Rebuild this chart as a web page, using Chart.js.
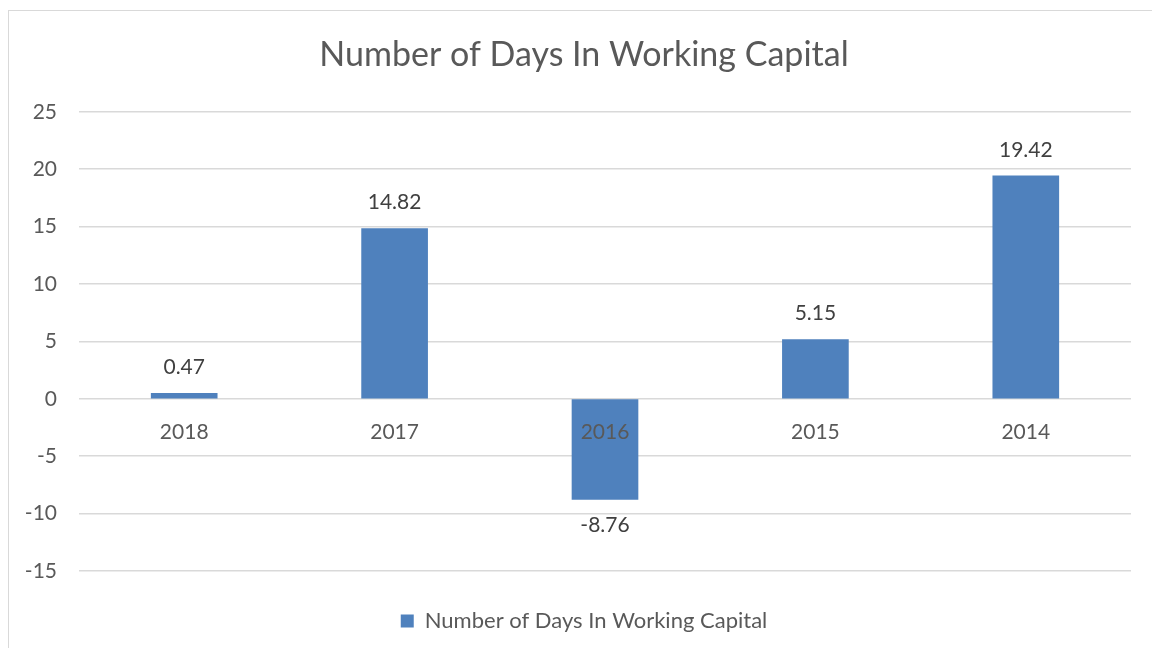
<!DOCTYPE html>
<html>
<head>
<meta charset="utf-8">
<script src="https://cdn.jsdelivr.net/npm/chart.js@4.4.1/dist/chart.umd.min.js"></script>
<style>
  html, body { margin: 0; padding: 0; background: #fff; overflow: hidden; }
  #frame { position: absolute; left: 8px; top: 10px; width: 1160px; height: 660px; border: 1px solid #d9d9d9; box-sizing: border-box; }
  #wrap { position: absolute; left: 8px; top: 0; width: 1152px; height: 648px; }
</style>
</head>
<body>
<div id="frame"></div>
<div id="wrap"><canvas id="myChart" width="1152" height="648"></canvas></div>
<script>
const years = ['2018', '2017', '2016', '2015', '2014'];
const days = [0.47, 14.82, -8.76, 5.15, 19.42];
const yTicks = [-15, -10, -5, 0, 5, 10, 15, 20, 25];
const seriesName = 'Number of Days In Working Capital';

const FONT = 'Lato, "Open Sans", sans-serif';

// category labels sit just under the zero line, values above/below each bar
const labelPlugin = {
    id: 'labels',
    afterDatasetsDraw(chart) {
        const ctx = chart.ctx;
        const x = chart.scales.x, y = chart.scales.y;
        const zero = y.getPixelForValue(0);
        ctx.save();
        ctx.font = '21px ' + FONT;
        ctx.textAlign = 'center';
        ctx.textBaseline = 'middle';
        ctx.fillStyle = '#595959';
        years.forEach((yr, i) => {
            ctx.fillText(yr, x.getPixelForTick(i), zero + 33);
        });
        ctx.fillStyle = '#404040';
        const meta = chart.getDatasetMeta(0);
        meta.data.forEach((bar, i) => {
            const v = days[i];
            const yy = v >= 0 ? bar.y - 26 : bar.y + 26;
            ctx.fillText(v.toFixed(2), bar.x, yy);
        });
        ctx.restore();
    }
};

new Chart(document.getElementById('myChart').getContext('2d'), {
    type: 'bar',
    data: {
        labels: years,
        datasets: [{
            label: seriesName,
            data: days,
            backgroundColor: '#4f81bd',
            borderWidth: 0,
            barThickness: 66
        }]
    },
    options: {
        responsive: false,
        animation: false,
        layout: { padding: { left: 0, right: 0, top: 0, bottom: 6 } },
        plugins: {
            title: {
                display: true,
                text: seriesName,
                color: '#595959',
                font: { family: FONT, size: 34, weight: 'normal' },
                padding: { top: 35, bottom: 36 }
            },
            legend: {
                position: 'bottom',
                labels: {
                    color: '#595959',
                    font: { family: FONT, size: 22 },
                    boxWidth: 13,
                    boxHeight: 13,
                    padding: 10
                }
            },
            tooltip: { enabled: false }
        },
        scales: {
            x: {
                display: true,
                grid: { display: false, drawTicks: false },
                border: { display: false },
                ticks: { display: false },
                afterFit: s => { s.height = 29; }
            },
            y: {
                min: -15,
                max: 25,
                afterBuildTicks: s => { s.ticks = yTicks.map(v => ({ value: v })); },
                afterFit: s => { s.width = 71; },
                grid: { color: '#d9d9d9', lineWidth: 1.5, drawTicks: false },
                border: { display: false },
                ticks: {
                    color: '#595959',
                    font: { family: FONT, size: 21 },
                    padding: 22
                }
            },
            // empty right-hand spacer so the plot ends where the reference does
            yRight: {
                position: 'right',
                display: true,
                grid: { display: false, drawTicks: false },
                border: { display: false },
                ticks: { display: false },
                afterFit: s => { s.width = 29; }
            }
        }
    },
    plugins: [labelPlugin]
});
</script>
</body>
</html>
